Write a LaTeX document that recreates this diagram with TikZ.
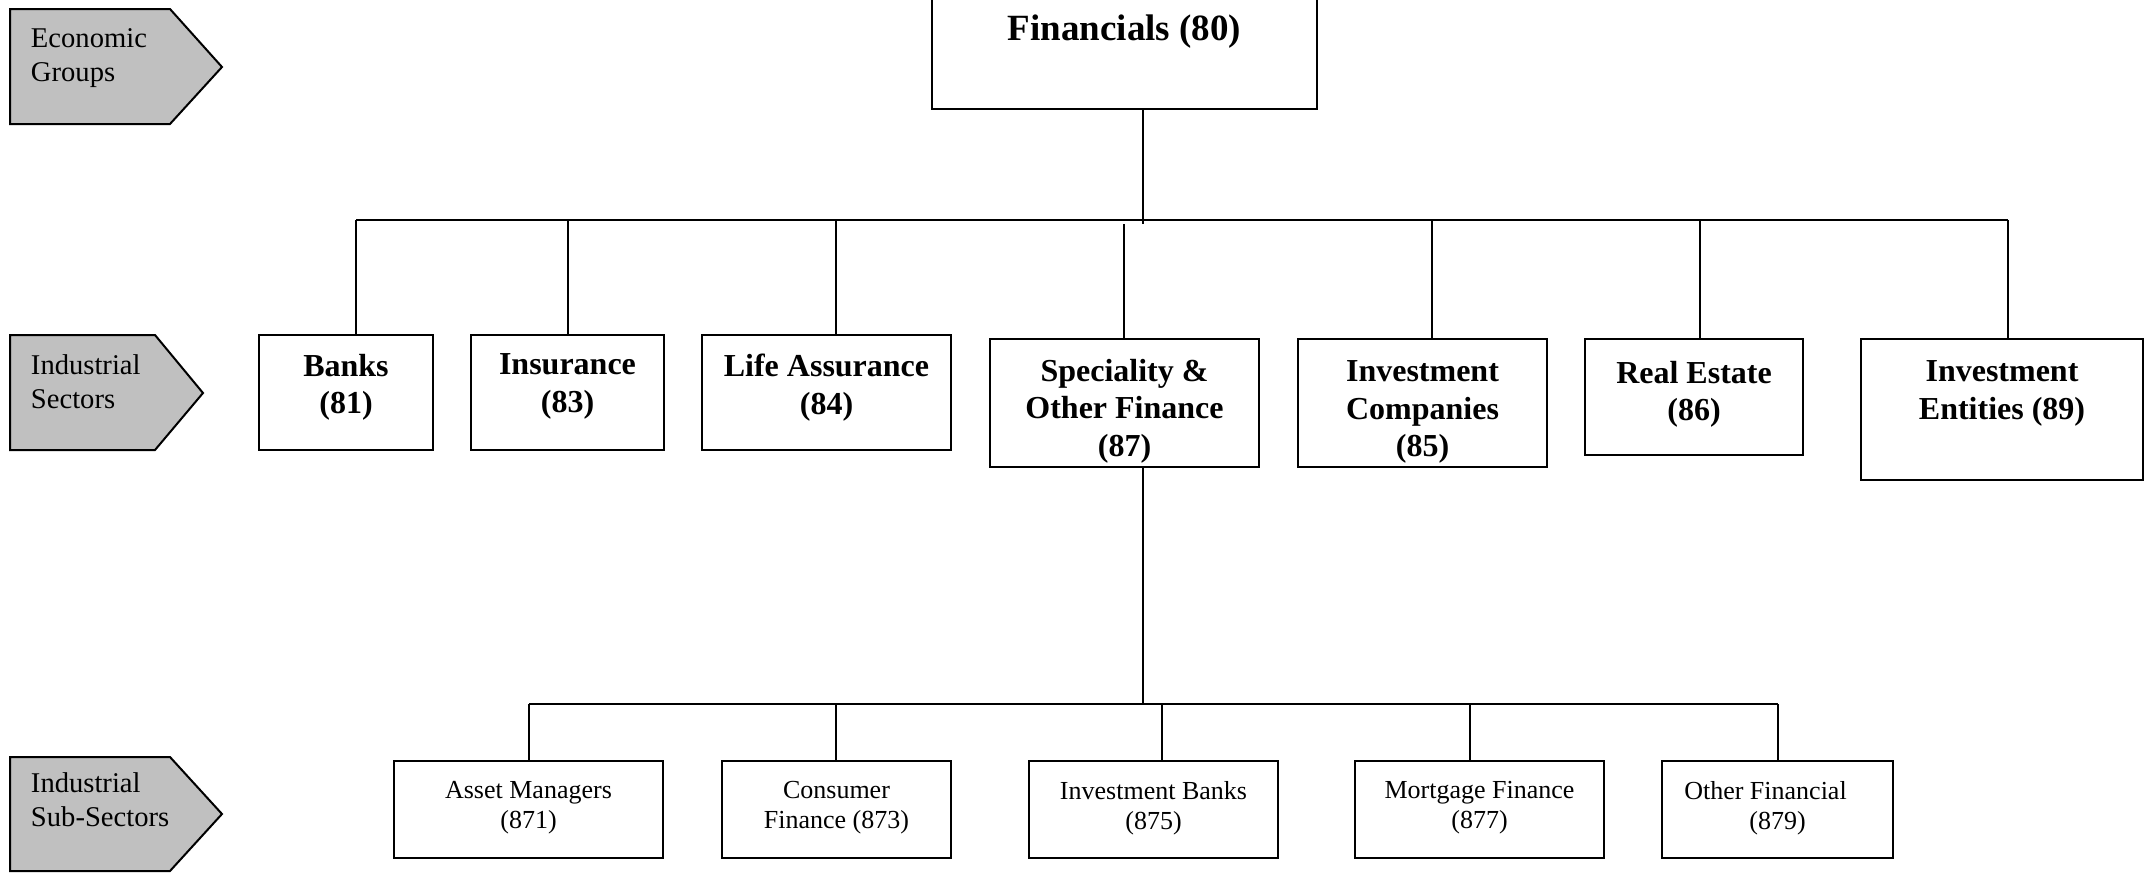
\documentclass[tikz,border=0pt]{standalone}
\usepackage{fontspec}
\setmainfont{Liberation Serif}
\usetikzlibrary{fit}
\definecolor{tabgrey}{RGB}{192,192,192}

\begin{document}
\begin{tikzpicture}[x=0.5pt, y=-0.5pt, line width=1pt,
    box/.style={shape=rectangle, draw, inner sep=0pt},
    tab/.style={draw, fill=tabgrey},
    tabtext/.style={font=\fontsize{14.3}{16.75}\selectfont, align=left, inner sep=0pt, anchor=north west},
    toptext/.style={font=\fontsize{18.5}{22}\selectfont\bfseries, align=center, inner sep=0pt, anchor=north},
    sectext/.style={font=\fontsize{16}{18.75}\selectfont\bfseries, align=center, inner sep=0pt, anchor=north},
    subtext/.style={font=\fontsize{13}{15}\selectfont, align=center, inner sep=0pt, anchor=north}]
    \useasboundingbox (0,0) rectangle (2149,873);

    \draw [tab] (10,9) -- (170,9) -- (222,67) -- (170,124) -- (10,124) -- cycle;
    \node [tabtext] (eg) at (30,28) {Economic\\Groups};
    \draw [tab] (10,335) -- (155,335) -- (203,393) -- (155,450) -- (10,450) -- cycle;
    \node [tabtext] (is) at (30,354) {Industrial\\Sectors};
    \draw [tab] (10,757) -- (170,757) -- (222,814) -- (170,871) -- (10,871) -- cycle;
    \node [tabtext] (iss) at (30,772) {Industrial\\Sub-Sectors};

    \node [box, fit={(932,-10) (1317,109)}] (fin) {};
    \node [toptext] (fin-t) at (1124.5,14) {Financials (80)};

    \node [box, fit={(259,335) (433,450)}] (banks) {};
    \node [sectext] (banks-t) at (346,353) {Banks\\(81)};
    \node [box, fit={(471,335) (664,450)}] (ins) {};
    \node [sectext] (ins-t) at (567.5,353) {Insurance\\(83)};
    \node [box, fit={(702,335) (951,450)}] (life) {};
    \node [sectext] (life-t) at (826.5,353) {Life Assurance\\(84)};
    \node [box, fit={(990,339) (1259,467)}] (spec) {};
    \node [sectext] (spec-t) at (1124.5,358) {Speciality \&\\Other Finance\\(87)};
    \node [box, fit={(1298,339) (1547,467)}] (invco) {};
    \node [sectext] (invco-t) at (1422.5,360) {Investment\\Companies\\(85)};
    \node [box, fit={(1585,339) (1803,455)}] (reit) {};
    \node [sectext] (reit-t) at (1694,360) {Real Estate\\(86)};
    \node [box, fit={(1861,339) (2143,480)}] (inven) {};
    \node [sectext] (inven-t) at (2002,360) {Investment\\Entities (89)};

    \node [box, fit={(394,761) (663,858)}] (asset) {};
    \node [subtext] (asset-t) at (528.5,780) {Asset Managers\\(871)};
    \node [box, fit={(722,761) (951,858)}] (cons) {};
    \node [subtext] (cons-t) at (836.5,780) {Consumer\\Finance (873)};
    \node [box, fit={(1029,761) (1278,858)}] (ibank) {};
    \node [subtext] (ibank-t) at (1153.5,780) {Investment Banks\\(875)};
    \node [box, fit={(1355,761) (1604,858)}] (mort) {};
    \node [subtext] (mort-t) at (1479.5,780) {Mortgage Finance\\(877)};
    \node [box, fit={(1662,761) (1893,858)}] (othfin) {};
    \node [subtext] (othfin-t) at (1777.5,780) {Other Financial\hspace*{12pt}\\(879)};

    \coordinate (t80) at (1143,224);
    \coordinate (busL) at (356,220);
    \coordinate (busR) at (2008,220);
    \coordinate (t83) at (568,220);
    \coordinate (t84) at (836,220);
    \coordinate (t87) at (1124,224);
    \coordinate (t85) at (1432,220);
    \coordinate (t86) at (1700,220);
    \draw (fin.south -| t80) -- (t80);
    \draw (busL) -- (busR);
    \draw (busL) -- (busL |- banks.north);
    \draw (t83) -- (t83 |- ins.north);
    \draw (t84) -- (t84 |- life.north);
    \draw (t87) -- (t87 |- spec.north);
    \draw (t85) -- (t85 |- invco.north);
    \draw (t86) -- (t86 |- reit.north);
    \draw (busR) -- (busR |- inven.north);

    \coordinate (t87b) at (1143,704);
    \coordinate (subL) at (529,704);
    \coordinate (subR) at (1778,704);
    \coordinate (t873) at (836,704);
    \coordinate (t875) at (1162,704);
    \coordinate (t877) at (1470,704);
    \draw (spec.south -| t87b) -- (t87b);
    \draw (subL) -- (subR);
    \draw (subL) -- (subL |- asset.north);
    \draw (t873) -- (t873 |- cons.north);
    \draw (t875) -- (t875 |- ibank.north);
    \draw (t877) -- (t877 |- mort.north);
    \draw (subR) -- (subR |- othfin.north);
\end{tikzpicture}
\end{document}
